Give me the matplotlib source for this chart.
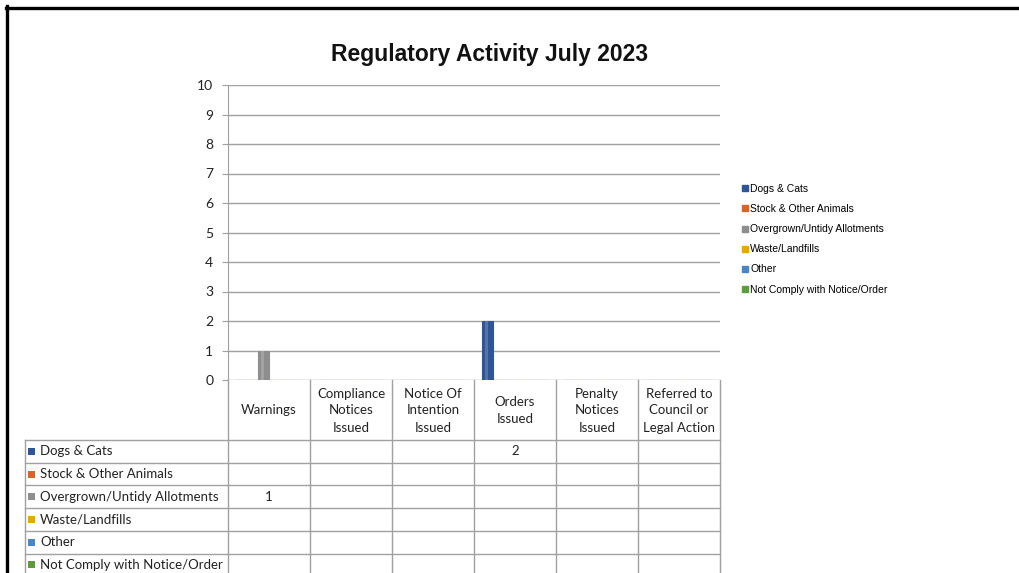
import numpy as np
import matplotlib
matplotlib.use("Agg")
import matplotlib.pyplot as plt
from matplotlib.lines import Line2D
from matplotlib.patches import Rectangle

# ---------------- data ----------------
title = "Regulatory Activity July 2023"
categories = ["Warnings", "Compliance\nNotices\nIssued", "Notice Of\nIntention\nIssued",
              "Orders\nIssued", "Penalty\nNotices\nIssued", "Referred to\nCouncil or\nLegal Action"]
series_names = ["Dogs & Cats", "Stock & Other Animals", "Overgrown/Untidy Allotments",
                "Waste/Landfills", "Other", "Not Comply with Notice/Order"]
series_colors = ["#2f5597", "#d5652b", "#8e8e8e", "#e4a800", "#4a85c4", "#5e9b3c"]
dogs_cats = [None, None, None, 2, None, None]
stock_animals = [None, None, None, None, None, None]
overgrown = [1, None, None, None, None, None]
waste = [None, None, None, None, None, None]
other = [None, None, None, None, None, None]
not_comply = [None, None, None, None, None, None]
series_values = [dogs_cats, stock_animals, overgrown, waste, other, not_comply]
y_ticks = list(range(0, 11))

# ---------------- layout ----------------
W, H = 1020, 573
fig = plt.figure(figsize=(W / 100, H / 100), dpi=100)
fig.patch.set_facecolor("white")

def fx(px):
    return px / W

def fy(py):
    return 1 - py / H

grid_col = "#a0a0a0"
plot_l, plot_r, plot_t, plot_b = 228, 720, 85, 380
ax = fig.add_axes([fx(plot_l), fy(plot_b), fx(plot_r) - fx(plot_l), fy(plot_t) - fy(plot_b)])
ax.set_xlim(0, len(categories))
ax.set_ylim(0, 10)
ax.set_yticks(y_ticks)
ax.set_xticks([])
for s in ["top", "right", "bottom"]:
    ax.spines[s].set_visible(False)
ax.spines["left"].set_color(grid_col)
ax.yaxis.grid(True, color=grid_col, lw=1)
ax.set_axisbelow(True)
ax.tick_params(axis="y", length=4.5, color=grid_col, pad=6, labelsize=10, labelcolor="#222222")
for lab in ax.get_yticklabels():
    lab.set_family(["Lato", "DejaVu Sans"])
ax.patch.set_alpha(0)

n = len(series_names)
group_w = 0.8
bw = group_w / n
x = np.arange(len(categories))
for i, (vals, col) in enumerate(zip(series_values, series_colors)):
    v = np.array([0 if a is None else a for a in vals], dtype=float)
    pos = x + (1 - group_w) / 2 + bw * (i + 0.5)
    ax.bar(pos, v, width=bw, color=col, edgecolor=col, linewidth=0.8, zorder=3)
    # subtle highlight stripe to mimic the shaded bars
    ax.bar(pos - bw * 0.12, v, width=bw * 0.3, color="white", alpha=0.18, linewidth=0, zorder=4)

# ---------------- data table ----------------
tab_l, tab_t, tab_b = 25, 380, 576
header_h = 60
row_h = 22.7
cw = (plot_r - plot_l) / len(categories)
tx = fig.add_axes([fx(tab_l), fy(tab_b), fx(plot_r) - fx(tab_l), fy(tab_t) - fy(tab_b)])
tx.set_xlim(-(plot_l - tab_l) / cw, len(categories))
tx.set_ylim(tab_b - tab_t, 0)
tx.axis("off")
x_left = -(plot_l - tab_l) / cw
bottom = tab_b - tab_t
for j in range(len(categories) + 1):
    tx.plot([j, j], [0, bottom], color=grid_col, lw=1, clip_on=False)
tx.plot([x_left, x_left], [header_h, bottom], color=grid_col, lw=1, clip_on=False)
for k in range(n + 1):
    yy = header_h + k * row_h
    tx.plot([x_left, len(categories)], [yy, yy], color=grid_col, lw=1, clip_on=False)

tfont = dict(family=["Lato", "DejaVu Sans"], fontsize=9.5, color="#222222")
for j, c in enumerate(categories):
    tx.text(j + 0.5, header_h / 2 + 0.5, c, ha="center", va="center", linespacing=1.5, **tfont)
key_w = 7 / cw
for k, (name, col, vals) in enumerate(zip(series_names, series_colors, series_values)):
    yc = header_h + (k + 0.5) * row_h
    tx.add_patch(Rectangle((x_left + 3 / cw, yc - 3.5), key_w, 7, color=col, lw=0))
    tx.text(x_left + 15 / cw, yc, name, ha="left", va="center", **tfont)
    for j, v in enumerate(vals):
        if v is not None:
            tx.text(j + 0.5, yc, f"{v:g}", ha="center", va="center", **tfont)

# ---------------- legend ----------------
handles = [Line2D([], [], marker="s", linestyle="none", markersize=4.5, color=c) for c in series_colors]
fig.legend(handles, series_names, loc="upper left", bbox_to_anchor=(fx(742), fy(184)),
           frameon=False, prop=dict(family=["Liberation Sans", "DejaVu Sans"], size=7.5),
           handlelength=0.6, handletextpad=0.2, labelspacing=0.97, borderpad=0, borderaxespad=0)

# ---------------- title and frame ----------------
fig.text(fx(490), fy(54), title, ha="center", va="center", fontsize=16.5, fontweight="bold",
         family=["Liberation Sans", "DejaVu Sans"], color="#111111")
fig.add_artist(Line2D([fx(6), 1], [fy(7.5), fy(7.5)], color="black", lw=2.4, transform=fig.transFigure))
fig.add_artist(Line2D([fx(7.5), fx(7.5)], [fy(6), 0], color="black", lw=2.4, transform=fig.transFigure))

fig.savefig("out.png", dpi=100)
